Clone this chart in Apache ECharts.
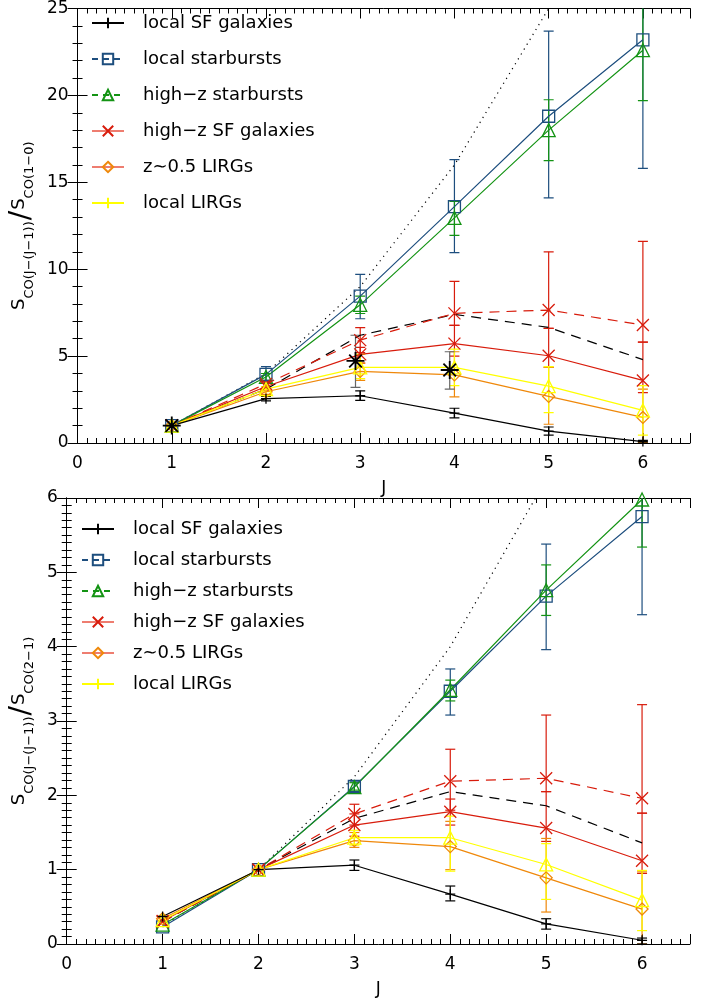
<!DOCTYPE html>
<html>
<head>
<meta charset="utf-8">
<script src="https://cdn.jsdelivr.net/npm/echarts@6/dist/echarts.min.js"></script>
<style>html,body{margin:0;padding:0;background:#fff;}#c{width:708px;height:1001px;}</style>
</head>
<body>
<div id="c"></div>
<script>
// ---------- data ----------
const J = [1, 2, 3, 4, 5, 6];
const xTickLabels = [0, 1, 2, 3, 4, 5, 6];

// top panel: S_CO(J-(J-1)) / S_CO(1-0)
const top_thermal   = [1, 4, 9, 16, 25, 36];
const top_localSF   = [1, 2.55, 2.72, 1.72, 0.68, 0.08];
const top_localSF_lo = [null, 2.42, 2.45, 1.45, 0.45, 0.0];
const top_localSF_hi = [null, 2.68, 3.0, 2.0, 0.92, 0.15];
const top_localSB   = [1, 3.95, 8.45, 13.6, 18.8, 23.2];
const top_localSB_lo = [null, 3.55, 7.15, 10.95, 14.1, 15.8];
const top_localSB_hi = [null, 4.4, 9.7, 16.3, 23.7, 30.6];
const top_hizSB     = [1, 3.8, 7.95, 12.95, 18.0, 22.6];
const top_hizSB_lo  = [null, 3.6, 7.45, 11.95, 16.25, 19.7];
const top_hizSB_hi  = [null, 4.0, 8.45, 13.9, 19.75, 25.6];
const top_hizSFd    = [1, 3.4, 5.92, 7.46, 7.65, 6.79];
const top_hizSFd_lo = [null, null, 5.2, 6.77, 6.6, 5.8];
const top_hizSFd_hi = [null, null, 6.64, 9.3, 11.0, 11.6];
const top_hizSF     = [1, 3.25, 5.1, 5.72, 5.02, 3.6];
const top_hizSF_lo  = [null, 3.0, 4.6, 5.0, 4.35, 2.9];
const top_hizSF_hi  = [null, 3.5, 5.5, 6.77, 6.6, 5.8];
const top_model     = [1, 3.1, 6.2, 7.4, 6.65, 4.8];
const top_zLIRG     = [1, 2.95, 4.12, 3.92, 2.68, 1.47];
const top_zLIRG_lo  = [null, 2.8, 3.6, 2.65, 1.08, 0.02];
const top_zLIRG_hi  = [null, 3.1, 4.6, 5.25, 4.35, 3.1];
const top_lLIRG     = [1, 3.1, 4.35, 4.35, 3.27, 1.88];
const top_lLIRG_lo  = [null, 2.95, 3.7, 3.3, 1.75, 0.45];
const top_lLIRG_hi  = [null, 3.25, 5.1, 5.4, 4.4, 3.3];
const top_ast_x     = [1, 2.95, 3.95];
const top_ast_y     = [1, 4.72, 4.2];
const top_ast_lo    = [null, 3.2, 3.1];
const top_ast_hi    = [null, 6.2, 5.25];

// bottom panel: S_CO(J-(J-1)) / S_CO(2-1)
const bot_thermal   = [0.25, 1, 2.25, 4, 6.25, 9];
const bot_localSF   = [0.37, 1, 1.06, 0.67, 0.27, 0.05];
const bot_localSF_lo = [null, null, 0.99, 0.58, 0.2, 0.0];
const bot_localSF_hi = [null, null, 1.13, 0.78, 0.34, 0.08];
const bot_localSB   = [0.23, 1, 2.12, 3.40, 4.68, 5.75];
const bot_localSB_lo = [null, null, 2.05, 3.08, 3.96, 4.43];
const bot_localSB_hi = [null, null, 2.19, 3.70, 5.38, 7.1];
const bot_hizSB     = [0.26, 1, 2.11, 3.42, 4.76, 5.98];
const bot_hizSB_lo  = [null, null, 2.07, 3.27, 4.42, 5.34];
const bot_hizSB_hi  = [null, null, 2.17, 3.55, 5.10, 6.6];
const bot_hizSFd    = [0.3, 1, 1.75, 2.19, 2.23, 1.96];
const bot_hizSFd_lo = [null, null, 1.6, 1.8, 2.05, 1.76];
const bot_hizSFd_hi = [null, null, 1.88, 2.62, 3.08, 3.22];
const bot_hizSF     = [0.31, 1, 1.6, 1.78, 1.56, 1.12];
const bot_hizSF_lo  = [null, null, 1.45, 1.6, 1.38, 0.95];
const bot_hizSF_hi  = [null, null, 1.75, 1.95, 2.05, 1.76];
const bot_model     = [0.3, 1, 1.69, 2.05, 1.86, 1.36];
const bot_zLIRG     = [0.34, 1, 1.39, 1.31, 0.89, 0.47];
const bot_zLIRG_lo  = [null, null, 1.3, 1.0, 0.43, 0.0];
const bot_zLIRG_hi  = [null, null, 1.5, 1.65, 1.42, 0.97];
const bot_lLIRG     = [0.32, 1, 1.43, 1.43, 1.07, 0.59];
const bot_lLIRG_lo  = [null, null, 1.33, 0.98, 0.6, 0.18];
const bot_lLIRG_hi  = [null, null, 1.53, 1.72, 1.35, 0.99];

const legendNames = ['local SF galaxies', 'local starbursts', 'high\u2212z starbursts',
  'high\u2212z SF galaxies', 'z\u223c0.5 LIRGs', 'local LIRGs'];

// ---------- styles ----------
const C = {k: '#000000', b: '#1d4e7e', g: '#139313', r: '#d81c0c', o: '#ef880a', y: '#ffff00', gr: '#666666'};
const SYM = {
  plus: 'path://M0,5L10,5M5,0L5,10',
  cross: 'path://M0,0L10,10M0,10L10,0',
  ast: 'path://M0,5L10,5M5,0L5,10M1.5,1.5L8.5,8.5M1.5,8.5L8.5,1.5'
};
const FONT = 'DejaVu Sans';
const THIN = "'DejaVu Sans ExtraLight', 'DejaVu Sans'";

function pairs(xs, ys) { return xs.map((x, i) => [x, ys[i]]); }
function errs(xs, lo, hi) {
  const out = [];
  xs.forEach((x, i) => { if (lo[i] !== null) out.push([x, lo[i], hi[i]]); });
  return out;
}
function lineSeries(p, name, ys, color, symbol, size, dashed, xs) {
  return {
    type: 'line', name: name, xAxisIndex: p.xi, yAxisIndex: p.yi,
    data: pairs(xs || J, ys), symbol: symbol, symbolSize: size, showSymbol: symbol !== 'none',
    symbolKeepAspect: true, clip: true, z: 3,
    lineStyle: {color: color, width: 1.2, type: dashed ? [10, 7] : 'solid'},
    itemStyle: {color: 'rgba(255,255,255,0)', borderColor: color, borderWidth: 1.3},
    emphasis: {disabled: true}, animation: false
  };
}
function errSeries(p, name, data, color) {
  return {
    type: 'custom', name: name, xAxisIndex: p.xi, yAxisIndex: p.yi, data: data, clip: true, z: 2,
    renderItem: function (params, api) {
      const x = api.value(0);
      const a = api.coord([x, api.value(1)]);
      const b = api.coord([x, api.value(2)]);
      const w = 5;
      const st = {stroke: color, lineWidth: 1.2};
      return {type: 'group', children: [
        {type: 'line', shape: {x1: a[0], y1: a[1], x2: b[0], y2: b[1]}, style: st},
        {type: 'line', shape: {x1: a[0] - w, y1: a[1], x2: a[0] + w, y2: a[1]}, style: st},
        {type: 'line', shape: {x1: b[0] - w, y1: b[1], x2: b[0] + w, y2: b[1]}, style: st}
      ]};
    },
    animation: false, silent: true
  };
}

function panelAxes(gi, ymax, yint, ysplit, nameRich, ngap) {
  const base = {type: 'value', gridIndex: gi, min: 0, max: 6.5, splitLine: {show: false}};
  const lineSt = {show: true, lineStyle: {color: '#000', width: 1}};
  const xs = [
    Object.assign({}, base, {position: 'bottom', interval: 1, axisLine: lineSt,
      axisTick: {show: true, inside: true, length: 10, lineStyle: {color: '#000'}},
      axisLabel: {show: true, margin: 12, color: '#000', fontFamily: FONT, fontSize: 17,
        formatter: v => (Math.abs(v - Math.round(v)) < 1e-6 ? String(Math.round(v)) : '')},
      name: 'J', nameLocation: 'middle', nameGap: 37,
      nameTextStyle: {color: '#000', fontFamily: FONT, fontSize: 17}}),
    Object.assign({}, base, {position: 'bottom', interval: 0.1, axisLine: {show: false},
      axisTick: {show: true, inside: true, length: 5, lineStyle: {color: '#000'}}, axisLabel: {show: false}}),
    Object.assign({}, base, {position: 'top', interval: 1, axisLine: lineSt,
      axisTick: {show: true, inside: true, length: 10, lineStyle: {color: '#000'}}, axisLabel: {show: false}}),
    Object.assign({}, base, {position: 'top', interval: 0.1, axisLine: {show: false},
      axisTick: {show: true, inside: true, length: 5, lineStyle: {color: '#000'}}, axisLabel: {show: false}})
  ];
  const ybase = {type: 'value', gridIndex: gi, min: 0, max: ymax, interval: yint, splitLine: {show: false},
    axisLine: lineSt, axisTick: {show: true, inside: true, length: 10, lineStyle: {color: '#000'}},
    minorTick: {show: true, splitNumber: ysplit, length: 5, lineStyle: {color: '#000'}}};
  const ys = [
    Object.assign({}, ybase, {position: 'left',
      axisLabel: {show: true, margin: 9, color: '#000', fontFamily: FONT, fontSize: 17},
      name: nameRich, nameLocation: 'middle', nameGap: ngap, nameRotate: 90,
      nameTextStyle: {color: '#000', fontFamily: FONT, fontSize: 17, rich: {
        s: {fontFamily: FONT, fontSize: 18, lineHeight: 26, verticalAlign: 'top', color: '#000'},
        b: {fontFamily: FONT, fontSize: 13, lineHeight: 14, verticalAlign: 'bottom', color: '#000'},
        sl: {fontFamily: THIN, fontSize: 28, lineHeight: 26, verticalAlign: 'bottom', color: '#000', padding: [0, 1, 0, 1]}
      }}}),
    Object.assign({}, ybase, {position: 'right', axisLabel: {show: false}})
  ];
  return {xs: xs, ys: ys};
}

function panelSeries(p, d) {
  const s = [];
  s.push(lineSeries(p, 'thermal', d.thermal, C.k, 'none', 0, false));
  s[s.length - 1].lineStyle.type = [1.2, 4.5];
  s.push(lineSeries(p, 'model', d.model, C.k, 'none', 0, true));
  s.push(errSeries(p, 'e_localSB', errs(J, d.localSB_lo, d.localSB_hi), C.b));
  s.push(errSeries(p, 'e_hizSB', errs(J, d.hizSB_lo, d.hizSB_hi), C.g));
  s.push(errSeries(p, 'e_hizSFd', errs(J, d.hizSFd_lo, d.hizSFd_hi), C.r));
  s.push(errSeries(p, 'e_hizSF', errs(J, d.hizSF_lo, d.hizSF_hi), C.r));
  s.push(errSeries(p, 'e_zLIRG', errs(J, d.zLIRG_lo, d.zLIRG_hi), C.o));
  s.push(errSeries(p, 'e_lLIRG', errs(J, d.lLIRG_lo, d.lLIRG_hi), C.y));
  s.push(errSeries(p, 'e_localSF', errs(J, d.localSF_lo, d.localSF_hi), C.k));
  s.push(lineSeries(p, legendNames[1], d.localSB, C.b, 'rect', 12, false));
  s.push(lineSeries(p, legendNames[2], d.hizSB, C.g, 'triangle', 13, false));
  s.push(lineSeries(p, 'high-z SF (dashed)', d.hizSFd, C.r, SYM.cross, 12, true));
  s.push(lineSeries(p, legendNames[3], d.hizSF, C.r, SYM.cross, 12, false));
  s.push(lineSeries(p, legendNames[4], d.zLIRG, C.o, 'diamond', 12, false));
  s.push(lineSeries(p, 'local LIRGs (points)', d.lLIRG, C.y, 'triangle', 13, false));
  s.push(lineSeries(p, legendNames[0], d.localSF, C.k, SYM.plus, 10, false));
  if (d.ast_x) {
    s.push(errSeries(p, 'e_ast', errs(d.ast_x, d.ast_lo, d.ast_hi), C.gr));
    const a = lineSeries(p, 'ast', d.ast_y, C.k, SYM.ast, 18, false, d.ast_x);
    a.lineStyle.width = 0; a.lineStyle.opacity = 0; a.itemStyle.borderWidth = 1.8; a.z = 4;
    s.push(a);
  }
  // legend-only entry for local LIRGs ('+' symbol)
  const leg = lineSeries(p, legendNames[5], [], C.y, SYM.plus, 10, false);
  leg.data = [];
  s.push(leg);
  return s;
}

const P1 = {xi: 0, yi: 0};
const P2 = {xi: 4, yi: 2};
const a1 = panelAxes(0, 25, 5, 5, '{s|S}{b|CO(J\u2212(J\u22121))}{sl|/}{s|S}{b|CO(1\u22120)}', 27);
const a2 = panelAxes(1, 6, 1, 10, '{s|S}{b|CO(J\u2212(J\u22121))}{sl|/}{s|S}{b|CO(2\u22121)}', 20);

const d1 = {thermal: top_thermal, model: top_model,
  localSF: top_localSF, localSF_lo: top_localSF_lo, localSF_hi: top_localSF_hi,
  localSB: top_localSB, localSB_lo: top_localSB_lo, localSB_hi: top_localSB_hi,
  hizSB: top_hizSB, hizSB_lo: top_hizSB_lo, hizSB_hi: top_hizSB_hi,
  hizSFd: top_hizSFd, hizSFd_lo: top_hizSFd_lo, hizSFd_hi: top_hizSFd_hi,
  hizSF: top_hizSF, hizSF_lo: top_hizSF_lo, hizSF_hi: top_hizSF_hi,
  zLIRG: top_zLIRG, zLIRG_lo: top_zLIRG_lo, zLIRG_hi: top_zLIRG_hi,
  lLIRG: top_lLIRG, lLIRG_lo: top_lLIRG_lo, lLIRG_hi: top_lLIRG_hi,
  ast_x: top_ast_x, ast_y: top_ast_y, ast_lo: top_ast_lo, ast_hi: top_ast_hi};
const d2 = {thermal: bot_thermal, model: bot_model,
  localSF: bot_localSF, localSF_lo: bot_localSF_lo, localSF_hi: bot_localSF_hi,
  localSB: bot_localSB, localSB_lo: bot_localSB_lo, localSB_hi: bot_localSB_hi,
  hizSB: bot_hizSB, hizSB_lo: bot_hizSB_lo, hizSB_hi: bot_hizSB_hi,
  hizSFd: bot_hizSFd, hizSFd_lo: bot_hizSFd_lo, hizSFd_hi: bot_hizSFd_hi,
  hizSF: bot_hizSF, hizSF_lo: bot_hizSF_lo, hizSF_hi: bot_hizSF_hi,
  zLIRG: bot_zLIRG, zLIRG_lo: bot_zLIRG_lo, zLIRG_hi: bot_zLIRG_hi,
  lLIRG: bot_lLIRG, lLIRG_lo: bot_lLIRG_lo, lLIRG_hi: bot_lLIRG_hi};

function legendData() {
  return legendNames.map((n, i) => {
    const o = {name: n};
    if (i === 1 || i === 2) o.lineStyle = {type: [6, 5]};
    if (i === 3 || i === 4) o.lineStyle = {color: '#ee7d70'};
    return o;
  });
}
function legend(left, top, gap) {
  return {orient: 'vertical', left: left, top: top, itemWidth: 32, itemHeight: 13, itemGap: gap,
    data: legendData(), selectedMode: false,
    textStyle: {color: '#000', fontFamily: FONT, fontSize: 18, padding: [0, 0, 0, 14]}};
}

const chart = echarts.init(document.getElementById('c'), null, {renderer: 'canvas'});
chart.setOption({
  backgroundColor: '#fff',
  animation: false,
  grid: [
    {left: 72, top: 5, width: 618, height: 438},
    {left: 62, top: 498, width: 628, height: 446}
  ],
  xAxis: a1.xs.concat(a2.xs),
  yAxis: a1.ys.concat(a2.ys),
  legend: [legend(86, 9, 18), legend(76, 515, 13)],
  series: panelSeries(P1, d1).concat(panelSeries(P2, d2))
});
</script>
</body>
</html>
